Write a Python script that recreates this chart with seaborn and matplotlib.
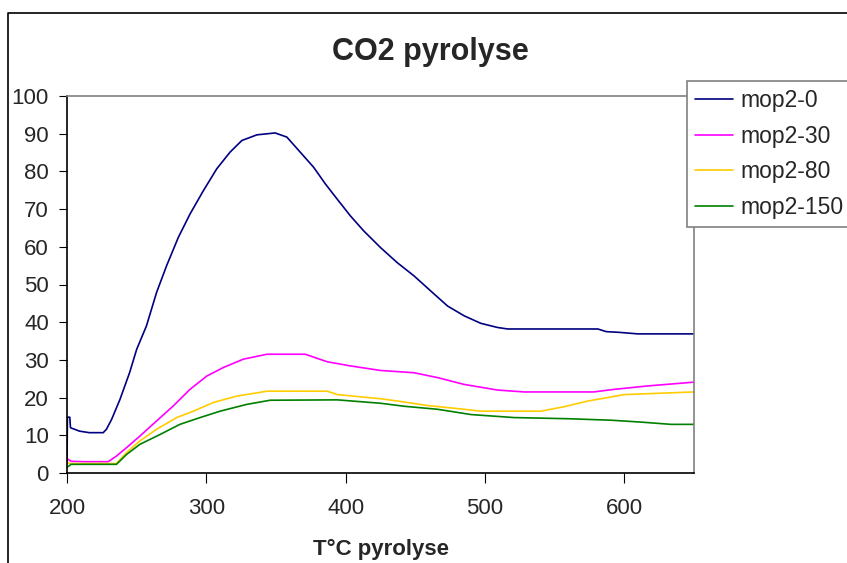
import numpy as np
import pandas as pd
import matplotlib
matplotlib.use('Agg')
import matplotlib.pyplot as plt
from matplotlib.lines import Line2D
import seaborn as sns

# valeurs (T en °C, signal CO2)
t_0 = [200, 200.3, 202, 202.5, 209, 216, 226, 228.3, 232, 238, 245, 250, 257, 264.3, 271.5,
       279.9, 288.3, 297.9, 307.5, 317, 325.5, 336.3, 349.4, 357.8, 367.4, 377, 385.4, 393.8,
       403.4, 413, 425, 437, 449, 461, 473.1, 485, 497, 509, 516.3, 581, 587, 596.6, 609.7, 650]
co2_0 = [2.5, 14.8, 14.8, 12.0, 11.1, 10.7, 10.7, 11.6, 14.2, 19.5, 26.7, 32.8, 39.0, 47.9, 55.0,
         62.5, 68.7, 74.9, 80.7, 85.1, 88.2, 89.7, 90.2, 89.1, 85.1, 81.1, 76.7, 72.7,
         68.2, 64.2, 59.8, 55.8, 52.3, 48.3, 44.3, 41.7, 39.7, 38.6, 38.2, 38.2, 37.5, 37.3, 36.9, 36.9]

t_30 = [200, 203, 212.7, 229.6, 235.5, 242.7, 252.3, 264.3, 276.3, 288.3, 300.3, 312.3, 326.6,
        343.5, 371, 386.8, 403.5, 425, 449, 466, 485, 509, 528, 578, 593, 617, 650]
co2_30 = [3.8, 3.1, 3.0, 3.0, 4.5, 6.7, 9.8, 13.8, 17.8, 22.2, 25.7, 28.0, 30.2,
          31.5, 31.5, 29.5, 28.4, 27.2, 26.6, 25.3, 23.5, 22.0, 21.5, 21.5, 22.2, 23.1, 24.1]

t_80 = [200, 203, 235.5, 242.7, 252.3, 264.3, 278.7, 290.7, 305, 321.9, 343.5, 386.8, 394,
        425, 437, 458.7, 485, 497, 540, 557, 574, 600, 650]
co2_80 = [2.7, 2.5, 2.5, 5.4, 8.5, 11.6, 14.7, 16.4, 18.7, 20.4, 21.7, 21.7, 20.8,
          19.7, 19.1, 17.9, 16.9, 16.4, 16.4, 17.6, 19.1, 20.8, 21.5]

t_150 = [200, 203, 235.5, 242.7, 252.3, 266.7, 281, 295.5, 309.9, 329, 345.8, 394, 425, 442,
         466, 490, 521, 559.5, 590.6, 612, 633.6, 650]
co2_150 = [1.5, 2.3, 2.3, 4.9, 7.6, 10.2, 12.9, 14.7, 16.4, 18.2, 19.3, 19.4, 18.5, 17.7,
           16.9, 15.5, 14.7, 14.4, 14.0, 13.5, 12.9, 12.9]

series = ['mop2-0', 'mop2-30', 'mop2-80', 'mop2-150']
couleurs = ['#000080', '#FF00FF', '#FFCC00', '#008000']

df = pd.concat([
    pd.DataFrame({'T': t_0, 'CO2': co2_0, 'serie': series[0]}),
    pd.DataFrame({'T': t_30, 'CO2': co2_30, 'serie': series[1]}),
    pd.DataFrame({'T': t_80, 'CO2': co2_80, 'serie': series[2]}),
    pd.DataFrame({'T': t_150, 'CO2': co2_150, 'serie': series[3]}),
], ignore_index=True)

sns.set_style("ticks")
plt.rcParams['font.family'] = ['Liberation Sans', 'DejaVu Sans']

fig = plt.figure(figsize=(8.47, 5.63), dpi=100)
ax = fig.add_axes([67/847, 1-473/563, (694-67)/847, (473-96)/563])

sns.lineplot(data=df, x='T', y='CO2', hue='serie', hue_order=series,
             palette=couleurs, estimator=None, sort=False, linewidth=1.2, ax=ax)

ax.set_xlim(200, 650)
ax.set_ylim(0, 100)
ax.set_xticks(range(200, 700, 100))
ax.set_yticks(range(0, 110, 10))
ax.tick_params(axis='both', labelsize=16, direction='out', color='black')
ax.tick_params(axis='y', length=6, pad=7)
ax.tick_params(axis='x', length=7, pad=11)
ax.set_xlabel('T°C pyrolyse', fontsize=16, fontweight='bold', labelpad=14)
ax.set_ylabel('')

for s in ['left', 'bottom']:
    ax.spines[s].set_color('black')
    ax.spines[s].set_linewidth(1.2)
for s in ['top', 'right']:
    ax.spines[s].set_visible(True)
    ax.spines[s].set_color('#808080')
    ax.spines[s].set_linewidth(1.2)

fig.text(430/847, 1-52/563, 'CO2 pyrolyse', fontsize=22, fontweight='bold',
         ha='center', va='center')

# cadre extérieur (style Excel)
fig.add_artist(Line2D([8/847, 8/847, 1.0], [0, 1-13/563, 1-13/563],
                      transform=fig.transFigure, color='black', linewidth=1.2))

handles, labels = ax.get_legend_handles_labels()
ax.get_legend().remove()
leg = fig.legend(handles, labels, loc='upper left', bbox_to_anchor=(687/847, 1-81/563),
                 fontsize=16.5, frameon=True, fancybox=False, shadow=False,
                 handlelength=1.66, handletextpad=0.3, labelspacing=0.55,
                 borderpad=0.35, borderaxespad=0)
leg.get_frame().set_edgecolor('#808080')
leg.get_frame().set_linewidth(1.2)
leg.get_frame().set_alpha(1)

fig.savefig('out.png', dpi=100)
